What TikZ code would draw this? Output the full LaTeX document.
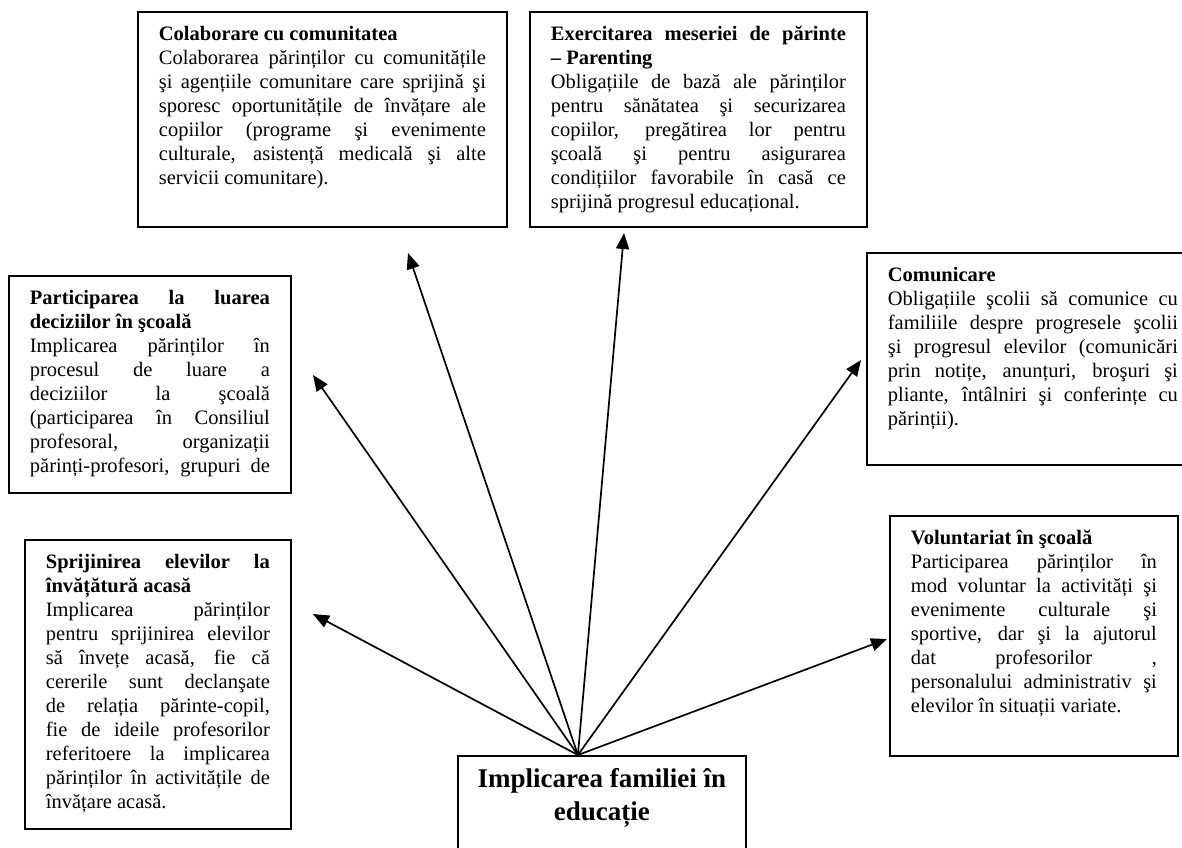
\documentclass[tikz,border=0pt]{standalone}
\usepackage{fontspec}
\setmainfont{Liberation Serif}
\usetikzlibrary{arrows.meta}
\tikzset{
topic/.style={draw, line width=0.9pt, anchor=north west, inner xsep=10.5pt, inner ysep=0pt},
link/.style={line width=0.85pt, -{Triangle[length=8pt,width=6.5pt]}}
}
\newcommand{\topictext}[4]{%
\begin{minipage}[t][#2][t]{#1}%
\fontsize{10.25pt}{12pt}\selectfont
\tolerance=10000 \hbadness=10000 \hyphenpenalty=10000 \exhyphenpenalty=10000
\rule{0pt}{14.5pt}\textbf{#3}\par
#4
\end{minipage}}

\begin{document}
\begin{tikzpicture}[x=0.5pt, y=-0.5pt]
  \useasboundingbox (0,0) rectangle (1182,847);
  \node[topic] (colab) at (137,11) {\topictext{163.5pt}{107.5pt}{Colaborare cu comunitatea}{%
    Colaborarea părinților cu comunitățile\linebreak
    şi agențiile comunitare care sprijină şi\linebreak
    sporesc oportunitățile de învățare ale\linebreak
    copiilor (programe şi evenimente\linebreak
    culturale, asistență medicală şi alte\linebreak
    servicii comunitare).}};
  \node[topic] (parent) at (529,11) {\topictext{147.5pt}{107.5pt}{Exercitarea meseriei de părinte\linebreak – Parenting}{%
    Obligațiile de bază ale părinților\linebreak
    pentru sănătatea şi securizarea\linebreak
    copiilor, pregătirea lor pentru\linebreak
    şcoală şi pentru asigurarea\linebreak
    condițiilor favorabile în casă ce\linebreak
    sprijină progresul educațional.}};
  \node[topic] (decizii) at (8,275) {\topictext{120pt}{108.5pt}{Participarea la luarea\linebreak deciziilor în şcoală}{%
    \parfillskip=0pt
    Implicarea părinților în\linebreak
    procesul de luare a\linebreak
    deciziilor la şcoală\linebreak
    (participarea în Consiliul\linebreak
    profesoral, organizații\linebreak
    părinți-profesori, grupuri de}};
  \node[topic] (comunic) at (866,252) {\topictext{145pt}{106pt}{Comunicare}{%
    Obligațiile şcolii să comunice cu\linebreak
    familiile despre progresele şcolii\linebreak
    şi progresul elevilor (comunicări\linebreak
    prin notițe, anunțuri, broşuri şi\linebreak
    pliante, întâlniri şi conferințe cu\linebreak
    părinții).}};
  \node[topic] (acasa) at (24,539) {\topictext{112pt}{144.5pt}{Sprijinirea elevilor la\linebreak învățătură acasă}{%
    Implicarea părinților\linebreak
    pentru sprijinirea elevilor\linebreak
    să învețe acasă, fie că\linebreak
    cererile sunt declanşate\linebreak
    de relația părinte-copil,\linebreak
    fie de ideile profesorilor\linebreak
    referitoere la implicarea\linebreak
    părinților în activitățile de\linebreak
    învățare acasă.}};
  \node[topic] (volunt) at (889,515) {\topictext{123pt}{120pt}{Voluntariat în şcoală}{%
    Participarea părinților în\linebreak
    mod voluntar la activități şi\linebreak
    evenimente culturale şi\linebreak
    sportive, dar şi la ajutorul\linebreak
    dat profesorilor ,\linebreak
    personalului administrativ şi\linebreak
    elevilor în situații variate.}};
  \node[topic, inner xsep=2pt] (centru) at (457,755) {\begin{minipage}[t][65pt][t]{140pt}\centering
    \fontsize{13.5pt}{16.5pt}\selectfont\bfseries
    \rule{0pt}{16pt}Implicarea familiei în\\ educație\end{minipage}};
  \coordinate (hub) at ([xshift=-12pt]centru.north);
  \coordinate (tcolab) at (408,253);
  \coordinate (tparent) at (624,233);
  \coordinate (tdecizii) at (313,375);
  \coordinate (tcomunic) at (861,360);
  \coordinate (tacasa) at (313,614);
  \coordinate (tvolunt) at (887,639);
  \foreach \t in {tcolab,tparent,tdecizii,tcomunic,tacasa,tvolunt}
  \draw[link] (hub) -- (\t);
\end{tikzpicture}
\end{document}
